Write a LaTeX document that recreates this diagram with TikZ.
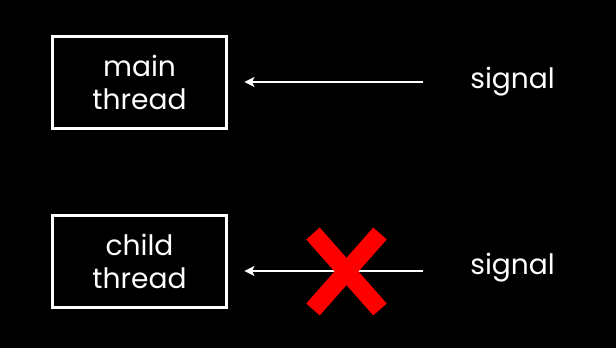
\documentclass[tikz,border=0pt]{standalone}
\usepackage{fontspec}
\setmainfont{Poppins}
\usetikzlibrary{arrows.meta, positioning}

\begin{document}
\begin{tikzpicture}[x=0.02cm, y=-0.02cm,
    box/.style={draw=white, line width=1.7pt, minimum width=3.5cm, minimum height=1.86cm,
      text=white, align=center, font=\fontsize{16}{18.5}\selectfont},
    lbl/.style={text=white, inner sep=0pt, anchor=base west, font=\fontsize{16}{18.5}\selectfont},
    sig/.style={-{Stealth[length=0.2cm, width=0.2cm, inset=0.05cm]}, white, line width=1.7pt, shorten >=0.32cm},
    xmark/.style={red, line width=0.36cm}]
    % 背景
    \fill[black] (0,0) rectangle (616,348);
    \useasboundingbox (0,0) rectangle (616,348);
    % 线程
    \node[box] (main) at (139.5,82.5) {main\\thread};
    \node[box] (child) at (139.5,261.5) {child\\thread};
    % 信号
    \node[lbl] (sig1) at (470,89) {signal};
    \node[lbl] (sig2) at (470,275) {signal};
    \coordinate (s1) at (423,82);
    \coordinate (s2) at (423,271);
    \draw[sig] (s1) -- (s1 -| main.east);
    \draw[sig] (s2) -- (s2 -| child.east);
    % 叉号
    \coordinate (cross) at (346.5,271.5);
    \draw[xmark] (cross) +(-33.5,-38) -- +(33.5,38)
                 (cross) +(-33.5,38) -- +(33.5,-38);
\end{tikzpicture}
\end{document}
